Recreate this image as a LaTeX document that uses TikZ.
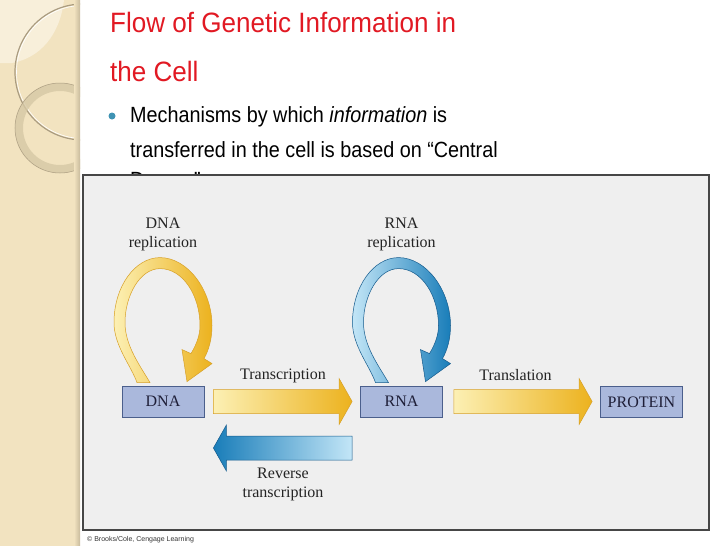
\documentclass[tikz,border=0pt]{standalone}
\usepackage{fontspec}
\setmainfont{Liberation Sans}
\newfontfamily\diagfont{Liberation Serif}
\usetikzlibrary{calc}

\definecolor{titlered}{RGB}{225,25,35}
\definecolor{bulletteal}{RGB}{63,147,179}
\definecolor{stripbeige}{RGB}{242,227,192}
\definecolor{stripcream}{RGB}{248,239,218}
\definecolor{stripshade}{RGB}{200,186,156}
\definecolor{ringtan}{RGB}{214,200,165}
\definecolor{ringline}{RGB}{170,156,128}
\definecolor{panelgray}{RGB}{239,239,239}
\definecolor{paneledge}{RGB}{70,70,70}
\definecolor{boxfill}{RGB}{170,184,220}
\definecolor{boxedge}{RGB}{75,95,140}
\definecolor{boxtext}{RGB}{30,30,55}
\definecolor{goldlight}{RGB}{252,240,180}
\definecolor{golddark}{RGB}{236,178,30}
\definecolor{goldedge}{RGB}{215,160,40}
\definecolor{bluelight}{RGB}{195,230,247}
\definecolor{bluedark}{RGB}{25,125,185}
\definecolor{blueedge}{RGB}{20,90,140}
\definecolor{labeltext}{RGB}{35,35,35}

% fat horizontal arrow from #2 (tail) to #3 (tip)
\newcommand{\fatarrow}[3][]{%
  \path[#1] let \p1=(#2), \p2=(#3), \n1={(\x2-\x1)/abs(\x2-\x1)} in
    (\x1,{\y1+12pt}) -- ({\x2-13pt*\n1},{\y1+12pt}) -- ({\x2-13pt*\n1},{\y1+23pt})
    -- (\x2,\y1) -- ({\x2-13pt*\n1},{\y1-23pt}) -- ({\x2-13pt*\n1},{\y1-12pt})
    -- (\x1,{\y1-12pt}) -- cycle;}

% curved self arrow sitting on top of node #2
\newcommand{\replloop}[2][]{%
  \begin{scope}[shift={(#2.north)}]
    \path[#1] (-26,-3) .. controls (-32,-20) and (-49,-40) .. (-49,-63)
      .. controls (-49,-99) and (-28,-128) .. (-3,-128)
      .. controls (25,-128) and (49,-95) .. (49,-60)
      .. controls (49,-47) and (46,-36) .. (41,-27)
      -- (49,-22) -- (24,-4) -- (19,-36) -- (28,-32)
      .. controls (34,-42) and (37,-51) .. (37,-60)
      .. controls (37,-90) and (20,-117) .. (-3,-117)
      .. controls (-23,-117) and (-38,-90) .. (-38,-63)
      .. controls (-38,-40) and (-23,-20) .. (-13,-3) -- cycle;
  \end{scope}}

\begin{document}
\begin{tikzpicture}[
  x=1pt, y=-1pt,
  title/.style={anchor=base west, inner sep=0, text=titlered, font=\fontsize{28}{33}\selectfont},
  bullettext/.style={anchor=base west, inner sep=0, font=\fontsize{22}{26}\selectfont},
  box/.style={draw=boxedge, fill=boxfill, line width=0.8, minimum width=82, minimum height=31,
    inner sep=0, text=boxtext, font=\diagfont\fontsize{16}{18}\selectfont},
  lbl/.style={inner sep=0, align=center, text=labeltext, font=\diagfont\fontsize{16}{19}\selectfont},
  yellowarr/.style={draw=goldedge, line width=0.5, left color=goldlight, right color=golddark},
  bluearr/.style={draw=blueedge, line width=0.5, left color=bluelight, right color=bluedark},
  bluearrrev/.style={draw=blueedge, line width=0.5, left color=bluedark, right color=bluelight}
]
\useasboundingbox (0,0) rectangle (728,546);

% Side strip
\fill[stripbeige] (0,0) rectangle (80,546);
\fill[stripcream] (0,0) -- (64,0) .. controls (60,35) and (40,58) .. (12,63) -- (0,63) -- cycle;
\begin{scope}
  \clip (0,0) rectangle (80,546);
  \draw[ringline, line width=1.2] (83,72) circle[radius=68];
  \draw[white, line width=0.6] (83,72) circle[radius=66.5];
  \draw[ringtan, line width=8, opacity=0.8] (60,128) circle[radius=41];
  \draw[ringline, line width=0.5] (60,128) circle[radius=45];
\end{scope}
\shade[left color=stripbeige, right color=stripshade] (74,0) rectangle (80,546);

% Title and bullet
\node[title] (titleA) at (110,32) {\scalebox{0.93}[1]{Flow of Genetic Information in}};
\node[title] (titleB) at (110,81) {\scalebox{0.93}[1]{the Cell}};
\fill[bulletteal] (112,116) circle[radius=3.5];
\node[bullettext] (lineA) at (130,122) {\scalebox{0.9}[1]{Mechanisms by which \emph{information} is}};
\node[bullettext] (lineB) at (130,157) {\scalebox{0.9}[1]{transferred in the cell is based on “Central}};
\node[bullettext] (lineC) at (130,187) {\scalebox{0.9}[1]{Dogma”}};

% Figure panel
\draw[fill=panelgray, draw=paneledge, line width=1.2] (83,175) rectangle (709,530);
\node[anchor=base west, inner sep=0, text=black!80, font=\fontsize{7}{8}\selectfont] (credit) at (87,541) {© Brooks/Cole, Cengage Learning};

% Boxes
\node[box] (dna) at (163,401.5) {DNA};
\node[box] (rna) at (401.5,401.5) {RNA};
\node[box] (protein) at (641.5,402) {PROTEIN};

% Loops
\replloop[yellowarr]{dna}
\replloop[bluearr]{rna}
\node[lbl, anchor=north] (dnarep) at (163,218) {DNA\\replication};
\node[lbl, anchor=north] (rnarep) at (401.5,218) {RNA\\replication};

% Straight arrows
\fatarrow[yellowarr]{$(dna.east)+(9,0)$}{$(rna.west)+(-8,0)$}
\fatarrow[yellowarr]{$(rna.east)+(11,0)$}{$(protein.west)+(-8,0)$}
\fatarrow[bluearrrev]{$(rna.west)+(-8,46.5)$}{$(dna.east)+(9,46.5)$}
\node[lbl, anchor=base] (transcr) at (283,379) {Transcription};
\node[lbl, anchor=base] (transl) at (515.5,380) {Translation};
\node[lbl, anchor=north] (revtr) at (283,468) {Reverse\\transcription};
\end{tikzpicture}
\end{document}
